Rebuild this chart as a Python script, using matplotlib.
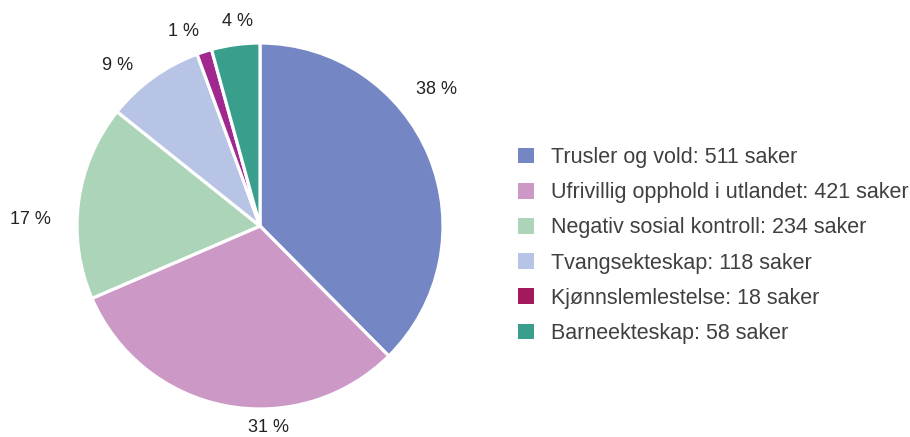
import matplotlib.pyplot as plt
from matplotlib.patches import Patch

plt.rcParams['font.family'] = ['Liberation Sans', 'DejaVu Sans']

categories = ['Trusler og vold', 'Ufrivillig opphold i utlandet', 'Negativ sosial kontroll',
              'Tvangsekteskap', 'Kjønnslemlestelse', 'Barneekteskap']
cases = [511, 421, 234, 118, 18, 58]

slice_colors = ['#7586c4', '#cc99c7', '#abd4b8', '#b8c4e6', '#a0288f', '#3a9e8c']
legend_colors = ['#7586c4', '#cc99c7', '#abd4b8', '#b8c4e6', '#a3195b', '#3a9e8c']
# label centres in pixels (chart places them by hand)
label_pos = [(437, 90), (268, 428), (30, 220), (118, 66), (183, 31), (237, 21)]

W, H = 910, 437
fig = plt.figure(figsize=(W / 100, H / 100), dpi=100)
ax = fig.add_axes([0, 0, 1, 1])

wedges, texts = ax.pie(cases, colors=slice_colors, startangle=90, counterclock=False,
                       center=(260, H - 226), radius=183, frame=True,
                       wedgeprops=dict(edgecolor='white', linewidth=2.3))
ax.set_xlim(0, W)
ax.set_ylim(0, H)
ax.set_aspect('equal')
ax.axis('off')

total = sum(cases)
for v, (x, y) in zip(cases, label_pos):
    ax.text(x, H - y, f'{round(100 * v / total)} %', ha='center', va='center',
            fontsize=13, color='#222222')

handles = [Patch(facecolor=c, edgecolor='none') for c in legend_colors]
labels = [f'{c}: {v} saker' for c, v in zip(categories, cases)]
ax.legend(handles, labels, loc='center left', bbox_to_anchor=(518 / W, 1 - 245.5 / H),
          frameon=False, fontsize=15.5, labelcolor='#404040', handlelength=0.75,
          handleheight=0.75, handletextpad=0.8, labelspacing=0.66, borderpad=0,
          borderaxespad=0)

fig.savefig('out.png', dpi=100)
